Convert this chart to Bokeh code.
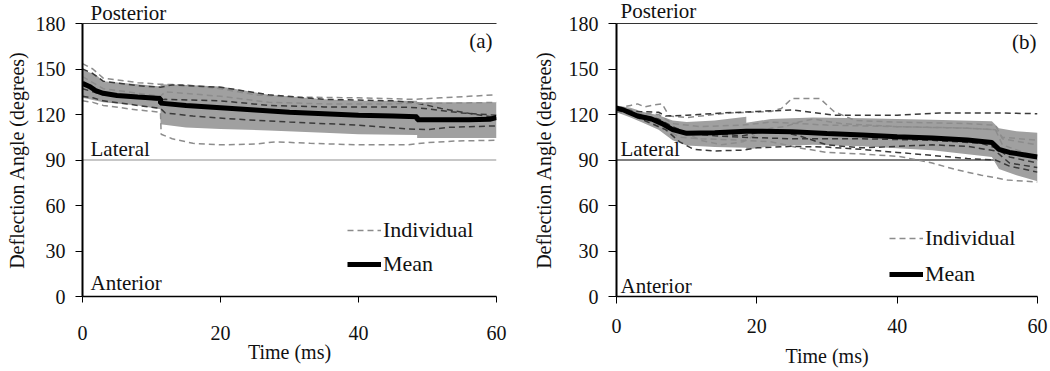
from bokeh.plotting import figure
from bokeh.models import Range1d, LinearAxis, FixedTicker, Span, Label, Legend, LegendItem
from bokeh.layouts import row
from bokeh.embed import file_html
from bokeh.resources import INLINE

FONT = "Liberation Serif"

# ---------------- data : panel (a) ----------------
x_ticks = [0, 20, 40, 60]
y_ticks = [0, 30, 60, 90, 120, 150, 180]

mean_a_t = [0, 1, 2, 3, 5, 8, 11.3, 11.3, 15, 20, 25, 30, 35, 40, 45, 48.5, 48.5, 52, 56, 59, 60]
mean_a_y = [140.5, 138.5, 135.5, 134, 132.5, 131.5, 130.5, 127.5, 126, 124.5, 123, 121.5, 120.5, 119.5, 119, 118.5, 116.5, 116.5, 116.5, 116.8, 118]

band_a_t = [0, 2, 3, 8, 11.3, 11.3, 15, 20, 27, 35, 40, 48.5, 48.5, 60]
band_a_hi = [149.5, 146, 142, 140, 138.5, 140, 139.5, 138.5, 133, 130, 129, 129, 128, 128]
band_a_lo = [131, 129, 128, 126, 123.5, 113.5, 111.5, 110.5, 109.5, 108, 107, 106.5, 104.5, 104.5]

ind_a1_t = [0, 1.5, 3, 8, 11, 15, 20, 25, 30, 40, 48, 52, 56, 60]
ind_a1_y = [153.5, 150, 144, 141, 140, 139.5, 137, 133, 131.5, 131, 130, 131, 132, 133]
ind_a2_t = [0, 1.5, 3, 8, 11.3, 13, 20, 27, 35, 45, 48, 52, 57, 60]
ind_a2_y = [150, 147, 142, 139, 138, 139.5, 138, 133, 130, 129, 128, 124, 120, 118]
ind_a3_t = [0, 1.5, 3, 8, 11.3, 12, 20, 27, 35, 45, 48, 54, 60]
ind_a3_y = [145, 141, 137, 134, 132, 135, 132, 128, 127, 127, 127.5, 127.5, 128]
ind_a4_t = [0, 1.5, 3, 8, 11.3, 12, 16, 22, 30, 40, 47, 50, 53, 60]
ind_a4_y = [132, 131, 129, 126, 124, 121, 119, 117, 115, 113, 110.5, 110, 111.5, 112.5]
ind_a5_t = [0, 1.5, 3, 8, 11.3, 11.4, 13, 16, 20, 25, 28, 33, 40, 47, 50, 54, 60]
ind_a5_y = [129, 128, 126, 123, 121.5, 107, 104, 101, 100, 100.5, 102, 101, 100, 100, 101.5, 102.5, 103]
ind_a6_t = [0, 1.5, 3, 8, 11.3, 12, 20, 27, 35, 45, 48.5, 55, 60]
ind_a6_y = [137, 135, 133, 131, 129.5, 130, 129, 126, 125, 125, 124.5, 121, 119.5]

# ---------------- data : panel (b) ----------------
mean_b_t = [0, 1, 3, 5, 6.5, 8, 10, 14, 18.5, 25, 30, 35, 40, 45, 50, 53.5, 54.5, 56, 58, 60]
mean_b_y = [124.2, 123, 119, 117, 114, 110, 107.6, 108, 109, 108.7, 107.5, 106.5, 105.4, 104.5, 103.2, 101.5, 97, 95, 93.5, 92]

band_b_t = [0, 2, 4, 6, 8, 10, 14, 18.5, 18.5, 22, 28, 35, 45, 53.5, 54.5, 57, 60]
band_b_hi = [126, 124.5, 121.5, 119.5, 116, 115, 116, 118.5, 114.5, 117, 118, 117.5, 116.5, 115.5, 111, 109, 108]
band_b_lo = [121.5, 118, 114, 110, 103, 99.5, 98.5, 98, 97, 99, 100, 99, 96.5, 92, 84, 80, 76]

ind_b1_t = [0, 2, 3, 4, 5.5, 6.5, 7.5, 10, 13, 16, 19, 22, 23.5, 25, 29, 31, 34, 40, 50, 54, 55, 60]
ind_b1_y = [124, 126, 127, 125, 126.5, 127, 119, 118, 119.5, 121, 121.5, 122, 124, 130.5, 130.5, 122, 116, 115, 114, 113, 104, 100]
ind_b2_t = [0, 3, 6, 7, 10, 15, 20, 25, 31, 40, 46, 55, 60]
ind_b2_y = [124, 122, 121.5, 119, 119.5, 121, 122, 123, 119.5, 119.5, 121, 121, 120.5]
ind_b3_t = [0, 3, 6, 9, 12, 18, 22, 26, 30, 35, 40.5, 45, 48.6, 52, 55.7, 60]
ind_b3_y = [123, 118, 113, 105, 104, 103, 102, 98, 95, 94, 92.2, 88, 83.4, 80, 76.8, 75.5]
ind_b4_t = [0, 4, 7, 9, 11, 14, 18, 20, 25, 30, 35, 40, 45, 50, 54, 56, 60]
ind_b4_y = [124, 116, 110, 102, 97, 96, 96.5, 98, 99, 98.5, 97, 95, 93, 91, 90, 86, 82]
ind_b5_t = [0, 4, 7, 9, 12, 15, 18, 20, 22, 24, 26, 28, 32, 40, 50, 54, 55, 58, 60]
ind_b5_y = [122, 117, 112, 110, 103, 100, 102, 107, 111, 112, 115, 117, 114, 112, 111, 110, 100, 95, 93]
ind_b6_t = [0, 3, 6, 8, 10, 15, 18, 20, 22, 26, 30, 35, 40, 45, 50, 54, 56, 60]
ind_b6_y = [124, 120, 117, 112, 108, 107, 106, 108, 110, 106, 100, 98, 99, 100, 99, 96, 88, 85]
ind_b7_t = [0, 3, 6, 8, 12, 18, 22, 30, 40, 50, 54, 55, 60]
ind_b7_y = [125, 121, 120, 114, 112, 113, 115, 113, 112, 111, 110, 105, 103]
ind_b8_t = [0, 3, 6, 9, 14, 18, 25, 35, 45, 52, 54, 56, 60]
ind_b8_y = [123, 119, 115, 108, 106, 105, 104, 104, 103, 101, 98, 92, 88]

x_title = "Time (ms)"
y_title = "Deflection Angle (degrees)"

DARK = "#3a3a3a"
LIGHT = "#8c8c8c"
BAND = "#a0a0a0"
TXT = "#111111"


def style_axis(ax, tick_out, standoff, line_w, label_standoff):
    ax.axis_line_color = "#000000"
    ax.axis_line_width = line_w
    ax.major_tick_line_color = "#000000"
    ax.major_tick_line_width = 1
    ax.major_tick_out = tick_out
    ax.major_tick_in = 0
    ax.minor_tick_line_color = None
    ax.major_label_text_font = FONT
    ax.major_label_text_font_size = "20px"
    ax.major_label_text_color = TXT
    ax.major_label_text_line_height = 1.0
    ax.major_label_standoff = standoff
    ax.axis_label_text_font = FONT
    ax.axis_label_text_font_size = "20px"
    ax.axis_label_text_font_style = "normal"
    ax.axis_label_text_color = TXT
    ax.axis_label_text_line_height = 1.0
    ax.axis_label_standoff = label_standoff


def panel(width, bl, br, bb, mean_t, mean_y, band_t, band_hi, band_lo, inds,
          lat_color, lat_width, tag, g):
    p = figure(width=width, height=371, x_range=Range1d(0, 60), y_range=Range1d(0, 180),
               output_backend="svg", toolbar_location=None,
               min_border_left=bl, min_border_right=br, min_border_top=0, min_border_bottom=bb)
    p.grid.visible = False
    p.outline_line_color = None
    p.background_fill_color = "white"
    p.border_fill_color = "white"

    p.title.text = "Posterior"
    p.title.align = "left"
    p.title.vertical_align = "top"
    p.title.offset = g["tx"]
    p.title.standoff = g["tst"]
    p.title.text_font = FONT
    p.title.text_font_size = "21px"
    p.title.text_font_style = "normal"
    p.title.text_color = TXT

    p.xaxis.ticker = FixedTicker(ticks=x_ticks)
    p.yaxis.ticker = FixedTicker(ticks=y_ticks)
    p.xaxis.axis_label = x_title
    p.yaxis.axis_label = y_title
    style_axis(p.xaxis[0], g["xt"], g["xs"], 1.5, g["xls"])
    style_axis(p.yaxis[0], g["yt"], g["ys"], 2, g["yls"])

    top = LinearAxis(ticker=FixedTicker(ticks=[]), axis_line_color="#333333", axis_line_width=1.2,
                     major_tick_line_color=None, minor_tick_line_color=None,
                     major_tick_out=0, major_tick_in=0, major_label_text_font_size="0px")
    p.add_layout(top, "above")

    p.add_layout(Span(location=90, dimension="width", line_color=lat_color, line_width=lat_width,
                      level="underlay"))

    p.varea(x=band_t, y1=band_lo, y2=band_hi, fill_color=BAND)

    ind_r = None
    for i, (tt, yy) in enumerate(inds):
        col = LIGHT if i % 2 == 0 else DARK
        r = p.line(tt, yy, line_color=col, line_width=1.5, line_dash="6 4")
        if col == LIGHT and ind_r is None:
            ind_r = r
    mean_r = p.line(mean_t, mean_y, line_color="black", line_width=5)

    leg = Legend(items=[LegendItem(label="Individual", renderers=[ind_r]),
                        LegendItem(label="Mean", renderers=[mean_r])],
                 location=g["leg"], orientation="vertical", glyph_width=34, glyph_height=20,
                 label_standoff=2, spacing=g["sp"], padding=0, margin=0,
                 border_line_color=None, background_fill_alpha=0,
                 label_text_font=FONT, label_text_font_size="22px", label_text_color=TXT,
                 label_height=20)
    p.add_layout(leg, "center")

    def lab(text, x, y, xo, yo, align="left"):
        p.add_layout(Label(x=x, y=y, x_offset=xo, y_offset=yo, text=text, text_font=FONT,
                           text_font_size="21px", text_color=TXT, text_align=align,
                           text_baseline="top"))

    lab("Lateral", 0, 90, g["tx"], g["laty"])
    lab("Anterior", 0, 0, g["tx"], g["anty"])
    lab(tag, 60, 180, g["tagx"], g["tagy"], align="right")
    return p


inds_a = [(ind_a1_t, ind_a1_y), (ind_a2_t, ind_a2_y), (ind_a3_t, ind_a3_y),
          (ind_a4_t, ind_a4_y), (ind_a5_t, ind_a5_y), (ind_a6_t, ind_a6_y)]
inds_b = [(ind_b1_t, ind_b1_y), (ind_b2_t, ind_b2_y), (ind_b3_t, ind_b3_y), (ind_b4_t, ind_b4_y),
          (ind_b5_t, ind_b5_y), (ind_b6_t, ind_b6_y), (ind_b7_t, ind_b7_y), (ind_b8_t, ind_b8_y)]

p1 = panel(512, 82, 16, 72, mean_a_t, mean_a_y, band_a_t, band_a_hi, band_a_lo, inds_a,
           "#b4b4b4", 1.5, "(a)",
           dict(tst=-6, xt=6, xs=23, xls=-2, yt=7, ys=10, yls=5, leg=(265, 19), sp=8, tx=8,
                laty=23, anty=26, tagx=-4, tagy=-5))
p2 = panel(538, 104, 13, 75, mean_b_t, mean_b_y, band_b_t, band_b_hi, band_b_lo, inds_b,
           "#000000", 1.2, "(b)",
           dict(tst=-3, xt=7, xs=15, xls=9, yt=8, ys=10, yls=11, leg=(273, 9), sp=10, tx=4,
                laty=23, anty=23, tagx=-1, tagy=-6))

layout = row(p1, p2)
open("out.html", "w").write(file_html(layout, INLINE))
